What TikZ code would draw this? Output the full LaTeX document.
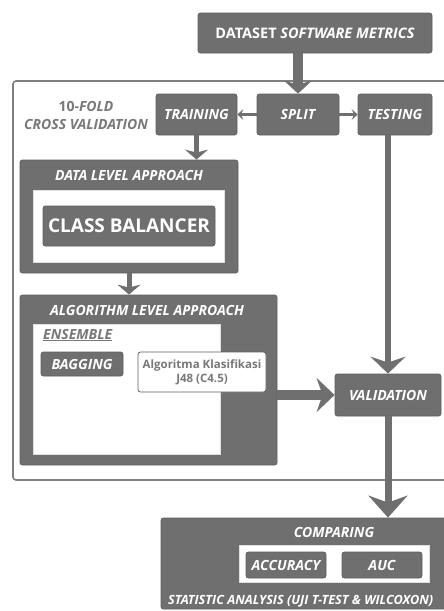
\documentclass[tikz,border=0pt]{standalone}
\usepackage{fontspec}
\setmainfont{Open Sans}
\usetikzlibrary{arrows.meta,calc}

\definecolor{boxgray}{HTML}{6F6F6F}
\definecolor{edgegray}{HTML}{5E5E5E}
\definecolor{labelgray}{HTML}{787878}
\definecolor{framegray}{HTML}{808080}

\tikzset{
  boxfont/.style={font=\bfseries\itshape\fontsize{14}{16}\selectfont},
  graybox/.style={draw=edgegray, line width=0.8pt, fill=boxgray, rounded corners=2.5pt,
    inner sep=0pt, text=white, boxfont, align=center},
  whitebox/.style={draw=black!12, line width=0.6pt, fill=white, inner sep=0pt},
  grayfont/.style={text=labelgray, font=\bfseries\itshape\fontsize{14}{17.5}\selectfont, align=center},
  thinarrow/.style={draw=boxgray, line width=3pt, -{Stealth[length=6pt,width=11pt,inset=2.5pt]}},
  midarrow/.style={draw=boxgray, line width=5pt, -{Stealth[length=10pt,width=23pt,inset=3pt]}},
  bigarrow/.style={draw=boxgray, line width=10pt, -{Stealth[length=18pt,width=34pt,inset=6pt]}},
}

\begin{document}
\begin{tikzpicture}[x=1pt,y=-1pt]
\useasboundingbox (0,0) rectangle (444,611);
\clip (0,0) rectangle (444,611);

% outer cross-validation frame
\draw[framegray, line width=1.6pt, rounded corners=3pt] (13,81) rectangle (470,480);
\node[grayfont, inner sep=0pt] (cvlabel) at (86,115.5) {\upshape 10-\itshape FOLD\\CROSS VALIDATION};

% top row
\node[graybox, minimum width=234pt, minimum height=40pt, font=\bfseries\fontsize{14.5}{16}\selectfont] (dataset) at (315,33)
  {DATASET \textit{SOFTWARE METRICS}};
\node[graybox, minimum width=81pt, minimum height=41pt] (training) at (196.5,114.5) {TRAINING};
\node[graybox, minimum width=82pt, minimum height=41pt] (split) at (298,114.5) {SPLIT};
\node[graybox, minimum width=74pt, minimum height=41pt] (testing) at (395,114.5) {TESTING};

% data level approach
\node[graybox, minimum width=218pt, minimum height=113pt] (datalevel) at (129,216.5) {};
\node[text=white, boxfont] (datalabel) at (129,175) {DATA LEVEL APPROACH};
\node[whitebox, minimum width=191pt, minimum height=72pt] (datainner) at (128.5,226) {};
\node[graybox, minimum width=172pt, minimum height=40pt, font=\bfseries\fontsize{19}{22}\selectfont] (balancer) at (129,226) {CLASS BALANCER};

% algorithm level approach
\node[graybox, minimum width=257pt, minimum height=170pt] (algolevel) at (148.5,380) {};
\node[text=white, boxfont] (algolabel) at (147,310) {ALGORITHM LEVEL APPROACH};
\node[whitebox, minimum width=187pt, minimum height=130pt] (algoinner) at (126.5,389) {};
\node[anchor=west, text=labelgray, boxfont, inner sep=0pt] (ensemble) at (43,335) {\underline{ENSEMBLE}};
\node[graybox, minimum width=82pt, minimum height=24pt] (bagging) at (82,364) {BAGGING};
\node[draw=edgegray, line width=0.8pt, fill=white, rounded corners=2.5pt, minimum width=128pt, minimum height=40pt,
  inner sep=0pt, align=center, text=labelgray, font=\bfseries\fontsize{11.5}{14}\selectfont] (classifier) at (202,372)
  {Algoritma Klasifikasi\\J48 (C4.5)};

% validation
\node[graybox, minimum width=106pt, minimum height=42pt] (validation) at (388,395) {VALIDATION};

% statistic analysis
\node[graybox, minimum width=346pt, minimum height=91pt] (stats) at (334,563.5) {};
\node[text=white, boxfont] (comparing) at (334,532) {COMPARING};
\node[whitebox, minimum width=190pt, minimum height=37pt] (metrics) at (334,563.5) {};
\node[graybox, minimum width=80pt, minimum height=26pt] (accuracy) at (286,565) {ACCURACY};
\node[graybox, minimum width=80pt, minimum height=26pt] (auc) at (382,565) {AUC};
\node[anchor=west, inner sep=0pt, text=white, font=\bfseries\itshape\fontsize{12.7}{14}\selectfont] (statlabel) at (168,601) {STATISTIC ANALYSIS (UJI T-TEST \& WILCOXON)};

% connectors
\draw[draw=boxgray, line width=10pt, -{Stealth[length=13pt,width=28pt,inset=4pt]}] (dataset.south -| split) -- (split.north);
\draw[thinarrow] (split.west) -- (training.east);
\draw[thinarrow] (split.east) -- (testing.west);
\draw[midarrow] (training.south) -- (training.south |- datalevel.north);
\draw[midarrow] (datalevel.south) -- (datalevel.south |- algolevel.north);
\draw[draw=boxgray, line width=6pt, -{Stealth[length=17pt,width=35pt,inset=6pt]}] (testing.south -| validation) -- (validation.north);
\draw[bigarrow] (algolevel.east |- validation) -- (validation.west);
\draw[draw=boxgray, line width=7pt, -{Stealth[length=22pt,width=39pt,inset=7pt]}] (validation.south) -- (validation.south |- stats.north);
\end{tikzpicture}
\end{document}
